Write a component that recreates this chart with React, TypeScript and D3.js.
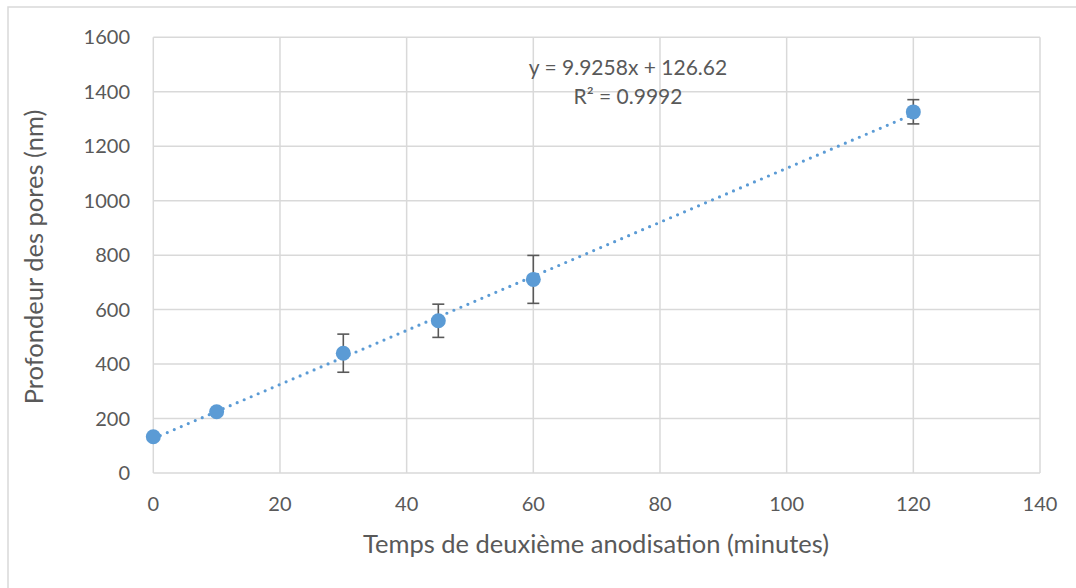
import React from "react";
import * as d3 from "d3";

const times = [0, 10, 30, 45, 60, 120];
const depths = [133, 225, 440, 559, 711, 1326];
const errLow = [0, 0, 370, 498, 623, 1282];
const errHigh = [0, 0, 510, 620, 799, 1371];
const hasErr = [false, false, true, true, true, true];
const xTicks = [0, 20, 40, 60, 80, 100, 120, 140];
const yTicks = [0, 200, 400, 600, 800, 1000, 1200, 1400, 1600];
const slope = 9.9258;
const intercept = 126.62;
const eqLabel = "y = 9.9258x + 126.62";
const r2Label = "R² = 0.9992";
const xTitle = "Temps de deuxième anodisation (minutes)";
const yTitle = "Profondeur des pores (nm)";

const W = 1076;
const H = 588;
const left = 153.3;
const right = 1040;
const top = 37.3;
const bottom = 473;
const blue = "#5B9BD5";
const txt = "#595959";
const grid = "#D9D9D9";
const font = "Lato, 'Open Sans', sans-serif";

export default function App() {
  const x = d3.scaleLinear().domain([0, 140]).range([left, right]);
  const y = d3.scaleLinear().domain([0, 1600]).range([bottom, top]);
  const trend = d3
    .line<number>()
    .x((d) => x(d))
    .y((d) => y(slope * d + intercept));
  return (
    <svg
      width={W}
      height={H}
      style={{ position: "absolute", left: 0, top: 0, background: "#fff" }}
      fontFamily={font}
    >
      <rect x={8} y={7} width={W + 10} height={H + 10} fill="none" stroke={grid} strokeWidth={1.5} />
      {yTicks.map((t) => (
        <line key={"gy" + t} x1={left} x2={right} y1={y(t)} y2={y(t)} stroke={grid} strokeWidth={1.5} />
      ))}
      {xTicks.map((t) => (
        <line key={"gx" + t} x1={x(t)} x2={x(t)} y1={top} y2={bottom} stroke={grid} strokeWidth={1.5} />
      ))}
      {yTicks.map((t) => (
        <text key={"ty" + t} x={130} y={y(t) + 7} textAnchor="end" fontSize={20} fill={txt}>
          {t}
        </text>
      ))}
      {xTicks.map((t) => (
        <text key={"tx" + t} x={x(t)} y={511} textAnchor="middle" fontSize={20} fill={txt}>
          {t}
        </text>
      ))}
      <text x={596} y={553} textAnchor="middle" fontSize={25.5} fill={txt}>
        {xTitle}
      </text>
      <text
        transform={`translate(43, 257) rotate(-90)`}
        textAnchor="middle"
        fontSize={25.5}
        fill={txt}
      >
        {yTitle}
      </text>
      <path
        d={trend([0, 120]) || ""}
        fill="none"
        stroke={blue}
        strokeWidth={3.2}
        strokeLinecap="round"
        strokeDasharray="0 7.6"
      />
      {times.map((t, i) =>
        hasErr[i] ? (
          <g key={"e" + i} stroke={txt} strokeWidth={1.6}>
            <line x1={x(t)} x2={x(t)} y1={y(errLow[i])} y2={y(errHigh[i])} />
            <line x1={x(t) - 6} x2={x(t) + 6} y1={y(errLow[i])} y2={y(errLow[i])} />
            <line x1={x(t) - 6} x2={x(t) + 6} y1={y(errHigh[i])} y2={y(errHigh[i])} />
          </g>
        ) : null
      )}
      {times.map((t, i) => (
        <circle key={"p" + i} cx={x(t)} cy={y(depths[i])} r={7.5} fill={blue} />
      ))}
      <text x={628} y={75} textAnchor="middle" fontSize={21} fill={txt}>
        {eqLabel}
      </text>
      <text x={628} y={104} textAnchor="middle" fontSize={21} fill={txt}>
        {r2Label}
      </text>
    </svg>
  );
}
